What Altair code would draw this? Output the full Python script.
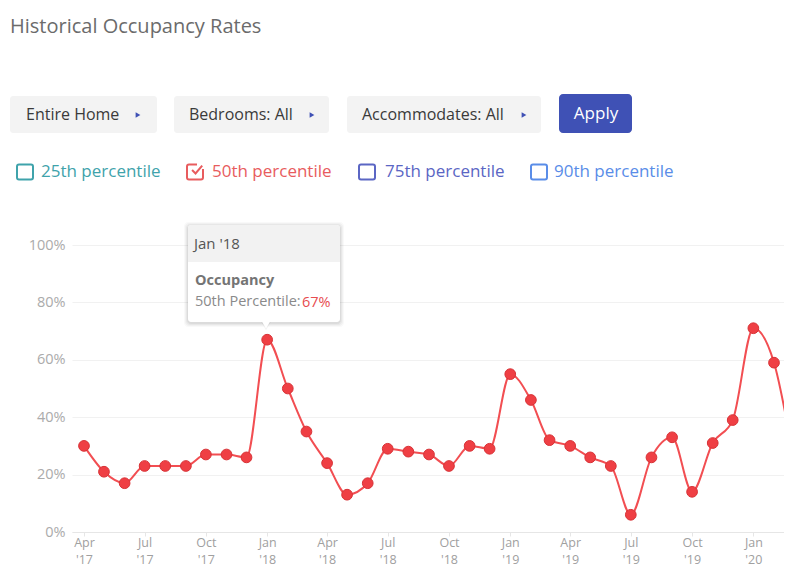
import altair as alt
import pandas as pd

# ---------------- data ----------------
months = pd.date_range("2017-04-01", periods=36, freq="MS").strftime("%Y-%m-%d").tolist()
occupancy = [30, 21, 17, 23, 23, 23, 27, 27, 26,
             67, 50, 35, 24, 13, 17, 29, 28, 27, 23, 30, 29,
             55, 46, 32, 30, 26, 23, 6, 26, 33, 14, 31, 39,
             71, 59, 26]
highlight_month = "2018-01-01"
highlight_label = "Jan '18"
highlight_value = "67%"
y_ticks = [0, 20, 40, 60, 80, 100]
tick_months = [(2017, 4), (2017, 7), (2017, 10), (2018, 1), (2018, 4), (2018, 7),
               (2018, 10), (2019, 1), (2019, 4), (2019, 7), (2019, 10), (2020, 1)]
filters = ["Entire Home", "Bedrooms: All", "Accommodates: All"]
percentiles = ["25th percentile", "50th percentile", "75th percentile", "90th percentile"]

df = pd.DataFrame({"month": months, "occ": occupancy})

FONT = "Open Sans"
X0, Y0 = 72, 245  # page position of plot origin
PLOT_W, PLOT_H = 712, 287


def px(x):
    return x - X0


def py(y):
    return y - Y0


one = alt.Data(values=[{"a": 1}])


def rect(x0, y0, x1, y1, **kw):
    return alt.Chart(one).mark_rect(**kw).encode(
        x=alt.value(px(x0)), x2=alt.value(px(x1)),
        y=alt.value(py(y0)), y2=alt.value(py(y1)))


def text(x, y, s, **kw):
    kw.setdefault("font", FONT)
    kw.setdefault("baseline", "middle")
    kw.setdefault("align", "left")
    return alt.Chart(one).mark_text(text=s, **kw).encode(
        x=alt.value(px(x)), y=alt.value(py(y)))


def sym(x, y, **kw):
    return alt.Chart(one).mark_point(**kw).encode(
        x=alt.value(px(x)), y=alt.value(py(y)))


# ---------------- main chart ----------------
def xscale():
    return alt.Scale(type="utc", domain=[
        alt.DateTime(year=2017, month=3, date=14, utc=True),
        alt.DateTime(year=2020, month=2, date=16, utc=True)])


tick_values = [alt.DateTime(year=y, month=m, date=1, utc=True) for y, m in tick_months]

month_axis = alt.Axis(
    values=tick_values, orient="bottom",
    labelExpr="utcFormat(datum.value, '%b')",
    grid=False, domainColor="#e6e6e6", tickColor="#e6e6e6", tickSize=4,
    labelColor="#a0a0a0", labelFont=FONT, labelFontSize=12.5, labelPadding=0,
    labelFlush=False, labelOverlap=False, title=None)

year_axis = alt.Axis(
    values=tick_values, orient="bottom",
    labelExpr="\"'\" + utcFormat(datum.value, '%y')",
    grid=False, domain=False, ticks=False,
    labelColor="#a0a0a0", labelFont=FONT, labelFontSize=12.5, labelPadding=21,
    labelFlush=False, labelOverlap=False, title=None)

yaxis = alt.Axis(values=y_ticks, labelExpr="datum.value + '%'", domain=False, ticks=False,
                 gridColor="#f1f1f1", labelColor="#ababab", labelFont=FONT,
                 labelFontSize=14.5, labelPadding=7, title=None)

yenc = alt.Y("occ:Q", scale=alt.Scale(domain=[0, 100]), axis=yaxis)

line = alt.Chart(df).mark_line(color="#f24e52", strokeWidth=2, interpolate="monotone",
                               clip=True).encode(
    x=alt.X("month:T", scale=xscale(), axis=month_axis), y=yenc)
years = alt.Chart(df).mark_point(opacity=0).encode(
    x=alt.X("month:T", scale=xscale(), axis=year_axis), y=yenc)
pts = alt.Chart(df).mark_point(filled=True, fill="#ef3f44", stroke="#d83236", strokeWidth=1,
                               size=115, opacity=1, clip=True).encode(
    x=alt.X("month:T", scale=xscale(), axis=None), y=yenc)
hi = alt.Chart(df).transform_filter(alt.datum.month == highlight_month).mark_point(
    filled=True, fill="#c73a3d", stroke="#e35b5e", strokeWidth=1.5, size=215, opacity=1
).encode(x=alt.X("month:T", scale=xscale(), axis=None), y=yenc)

# ---------------- UI decorations ----------------
ui = []
ui.append(text(10, 27, "Historical Occupancy Rates", fontSize=20, color="#6b6b6b"))

boxes = [(10, 157, 26, 138), (174, 329, 189, 312), (347, 541, 362, 524)]
for (bx0, bx1, tx, ax), label in zip(boxes, filters):
    ui.append(rect(bx0, 96, bx1, 133, fill="#f3f3f3", cornerRadius=3))
    ui.append(text(tx, 115, label, fontSize=16, color="#3a3a3a"))
    ui.append(sym(ax, 115, shape="triangle-right", filled=True, fill="#3f51b5",
                  size=30, opacity=1, strokeWidth=0))

ui.append(rect(559, 94, 632, 133, fill="#3f51b5", cornerRadius=4))
ui.append(text(596, 114, "Apply", fontSize=17, color="#ffffff", align="center"))

cb = [(17, 41, "#3fa3ab"), (187, 212, "#e85c5e"), (359, 385, "#5b66c4"), (531, 554, "#5a8de8")]
for i, ((bx, tx, col), label) in enumerate(zip(cb, percentiles)):
    ui.append(rect(bx, 164.5, bx + 16, 179.5, fill="none", stroke=col, strokeWidth=2,
                   cornerRadius=2))
    if i == 1:
        ui.append(rect(bx + 10, 161, bx + 19, 169, fill="#ffffff"))
        ui.append(sym(bx + 9.5, 170, shape="M -0.7 0 L -0.15 0.55 L 0.9 -0.7",
                      filled=False, stroke=col, strokeWidth=2, size=160, opacity=1))
    ui.append(text(tx, 172, label, fontSize=17, color=col))

# tooltip
for k, op in [(4, 0.025), (3, 0.03), (2, 0.04), (1, 0.05)]:
    ui.append(rect(188 - k, 225 - k + 1, 340 + k, 322 + k + 1, fill="#000000",
                   opacity=op, cornerRadius=4))
ui.append(sym(266, 325, shape="triangle-down", filled=True, fill="#000000",
              opacity=0.05, size=150, strokeWidth=0))
ui.append(rect(188, 225, 340, 322, fill="#ffffff", cornerRadius=3))
ui.append(sym(266, 324, shape="triangle-down", filled=True, fill="#ffffff",
              opacity=1, size=110, strokeWidth=0))
ui.append(rect(188, 225, 340, 262, fill="#f2f2f2", cornerRadius=3))
ui.append(rect(188, 256, 340, 262, fill="#f2f2f2"))
ui.append(text(194, 244, highlight_label, fontSize=15, color="#555555"))
ui.append(text(195, 281, "Occupancy", fontSize=14.5, fontWeight="bold", color="#747474"))
ui.append(text(195, 302, "50th Percentile:", fontSize=14.5, color="#8a8a8a"))
ui.append(text(302, 303, highlight_value, fontSize=14.5, color="#e74c4f"))

chart = alt.layer(line, years, pts, *ui, hi).resolve_axis(x="independent").properties(
    width=PLOT_W, height=PLOT_H,
    autosize=alt.AutoSizeParams(type="none"),
    padding={"left": 64, "top": 237, "right": 0, "bottom": 36},
).configure_view(stroke=None)

chart.save("out.html", embed_options={"renderer": "svg", "actions": False})
